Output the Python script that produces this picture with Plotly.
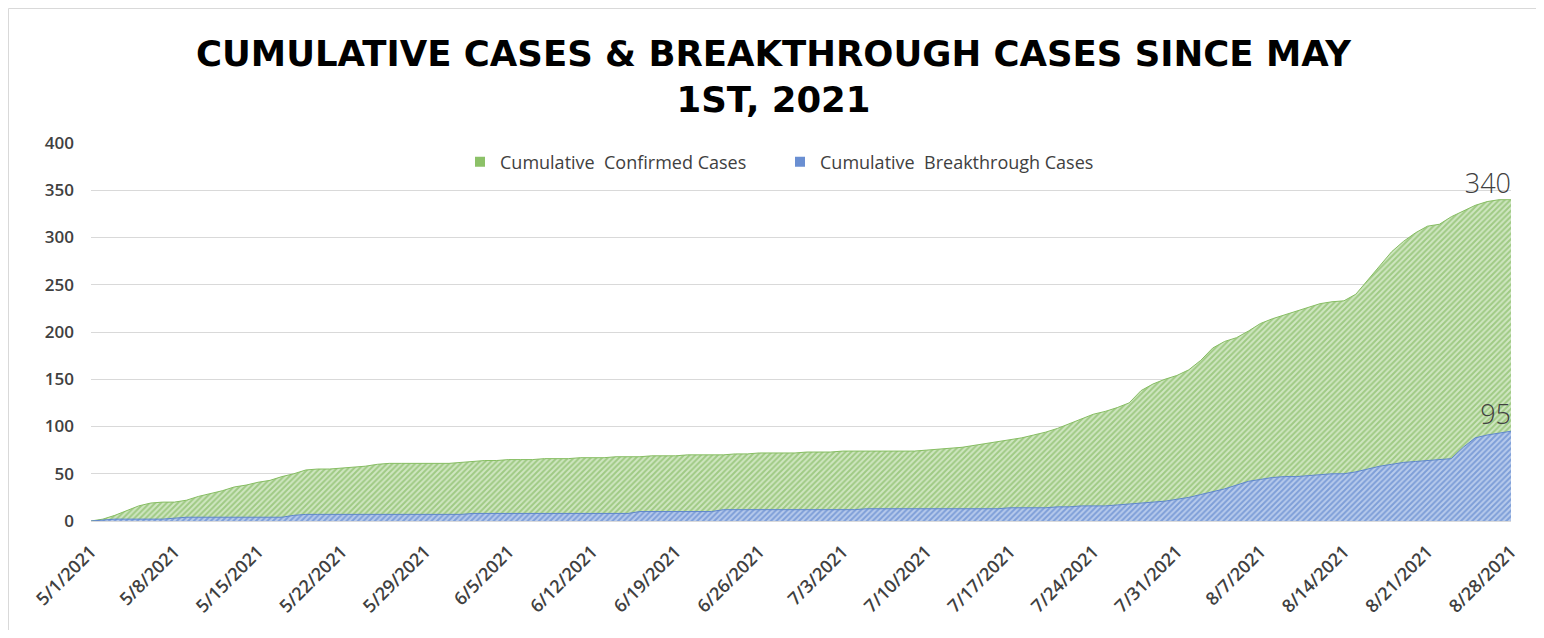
import pandas as pd
import plotly.graph_objects as go

# ---- data ----
start_date = "2021-05-01"
n_days = 120
dates = pd.date_range(start_date, periods=n_days).strftime("%Y-%m-%d").tolist()

confirmed = [
    0, 2, 6, 11, 16, 19, 20, 20, 22, 26,
    29, 32, 36, 38, 41, 43, 47, 50, 54, 55,
    55, 56, 57, 58, 60, 61, 61, 61, 61, 61,
    61, 62, 63, 64, 64, 65, 65, 65, 66, 66,
    66, 67, 67, 67, 68, 68, 68, 69, 69, 69,
    70, 70, 70, 70, 71, 71, 72, 72, 72, 72,
    73, 73, 73, 74, 74, 74, 74, 74, 74, 74,
    75, 76, 77, 78, 80, 82, 84, 86, 88, 91,
    94, 98, 103, 108, 113, 116, 120, 125, 138, 145,
    150, 154, 160, 170, 183, 190, 194, 201, 209, 214,
    218, 222, 226, 230, 232, 233, 240, 255, 270, 285,
    296, 305, 312, 314, 322, 328, 334, 338, 340, 340,
]

breakthrough = [
    0, 1, 2, 2, 2, 2, 2, 3, 4, 4,
    4, 4, 4, 4, 4, 4, 4, 6, 7, 7,
    7, 7, 7, 7, 7, 7, 7, 7, 7, 7,
    7, 7, 8, 8, 8, 8, 8, 8, 8, 8,
    8, 8, 8, 8, 8, 8, 10, 10, 10, 10,
    10, 10, 10, 12, 12, 12, 12, 12, 12, 12,
    12, 12, 12, 12, 12, 13, 13, 13, 13, 13,
    13, 13, 13, 13, 13, 13, 13, 14, 14, 14,
    14, 15, 15, 16, 16, 16, 17, 18, 19, 20,
    21, 23, 25, 28, 31, 34, 38, 42, 44, 46,
    47, 47, 48, 49, 50, 50, 52, 55, 58, 60,
    62, 63, 64, 65, 66, 78, 88, 91, 93, 95,
]

tick_dates = [
    "2021-05-01", "2021-05-08", "2021-05-15", "2021-05-22", "2021-05-29",
    "2021-06-05", "2021-06-12", "2021-06-19", "2021-06-26", "2021-07-03",
    "2021-07-10", "2021-07-17", "2021-07-24", "2021-07-31", "2021-08-07",
    "2021-08-14", "2021-08-21", "2021-08-28",
]
tick_labels = [
    "5/1/2021", "5/8/2021", "5/15/2021", "5/22/2021", "5/29/2021",
    "6/5/2021", "6/12/2021", "6/19/2021", "6/26/2021", "7/3/2021",
    "7/10/2021", "7/17/2021", "7/24/2021", "7/31/2021", "8/7/2021",
    "8/14/2021", "8/21/2021", "8/28/2021",
]

series_names = ["Cumulative  Confirmed Cases", "Cumulative  Breakthrough Cases"]
title_text = "CUMULATIVE CASES & BREAKTHROUGH CASES SINCE MAY<br>1ST, 2021"

# ---- figure geometry (page has an 8px body margin) ----
W, H = 1530, 622
L, R, T, B = 83, 27, 135, 109
PW, PH = W - L - R, H - T - B


def px_x(fx):
    return (fx - L) / PW


def px_y(fy):
    return (H - B - fy) / PH


green_fg, green_bg = "#70ad47", "#cfe6c1"
blue_fg, blue_bg = "#4472c4", "#b8cbec"

fig = go.Figure()

fig.add_trace(go.Scatter(
    x=dates, y=confirmed, name=series_names[0], mode="lines",
    fill="tozeroy", line=dict(color="#86bd62", width=1),
    fillpattern=dict(shape="/", fgcolor=green_fg, bgcolor=green_bg,
                     size=4, solidity=0.5),
    hoverinfo="skip", showlegend=False,
))
fig.add_trace(go.Scatter(
    x=dates, y=breakthrough, name=series_names[1], mode="lines",
    fill="tozeroy", line=dict(color="#5f86cc", width=1),
    fillpattern=dict(shape="/", fgcolor=blue_fg, bgcolor=blue_bg,
                     size=4, solidity=0.5),
    hoverinfo="skip", showlegend=False,
))

# legend entries (square swatches)
for name, col in zip(series_names, ["#8cc168", "#6a8fd2"]):
    fig.add_trace(go.Scatter(
        x=[None], y=[None], mode="markers", name=name,
        marker=dict(symbol="square", size=10, color=col),
        hoverinfo="skip",
    ))

# end-point data labels
for vals in (confirmed, breakthrough):
    fig.add_trace(go.Scatter(
        x=[dates[-1]], y=[vals[-1]], mode="text", text=[str(vals[-1])],
        textposition="top left", showlegend=False, hoverinfo="skip",
        textfont=dict(family="Open Sans", size=27, color="#404040", weight=300),
    ))

fig.update_layout(
    width=W, height=H,
    margin=dict(l=L, r=R, t=T, b=B, autoexpand=False),
    paper_bgcolor="white", plot_bgcolor="white",
    title=dict(
        text=title_text, x=765.5 / W, xref="container", xanchor="center",
        y=1 - 58 / H, yref="container", yanchor="top",
        font=dict(family="DejaVu Sans", size=35.5, color="#000000", weight=700),
    ),
    legend=dict(
        orientation="h", x=px_x(772), xanchor="center",
        y=px_y(154), yanchor="middle",
        font=dict(family="Open Sans", size=18, color="#404040"),
        bgcolor="rgba(0,0,0,0)", traceorder="normal",
        itemwidth=30, entrywidth=275,
    ),
    showlegend=True,
)

fig.update_yaxes(
    range=[0, 400], dtick=50, showgrid=True, gridcolor="#d9d9d9", gridwidth=1,
    zeroline=False, showline=False, ticks="", automargin=False,
    tickfont=dict(family="Open Sans", size=17, color="#404040", weight=600),
    ticklabelstandoff=16,
)
fig.update_xaxes(
    type="date", range=[dates[0], dates[-1]],
    tickmode="array", tickvals=tick_dates, ticktext=tick_labels,
    tickangle=-45, showgrid=False, zeroline=False, automargin=False,
    showline=True, linecolor="#d9d9d9", ticks="",
    tickfont=dict(family="Open Sans", size=18, color="#404040", weight=600),
    ticklabelstandoff=12,
)

# chart border (left, top, right)
border = dict(color="#d9d9d9", width=1)
for x0, y0, x1, y1 in [(0.5, H, 0.5, 0.5), (0.5, 0.5, W - 1, 0.5), (W - 1, 0.5, W - 1, H)]:
    fig.add_shape(type="line", xref="paper", yref="paper",
                  x0=px_x(x0), y0=px_y(y0), x1=px_x(x1), y1=px_y(y1),
                  line=border, layer="below")

fig.write_html("out.html")
